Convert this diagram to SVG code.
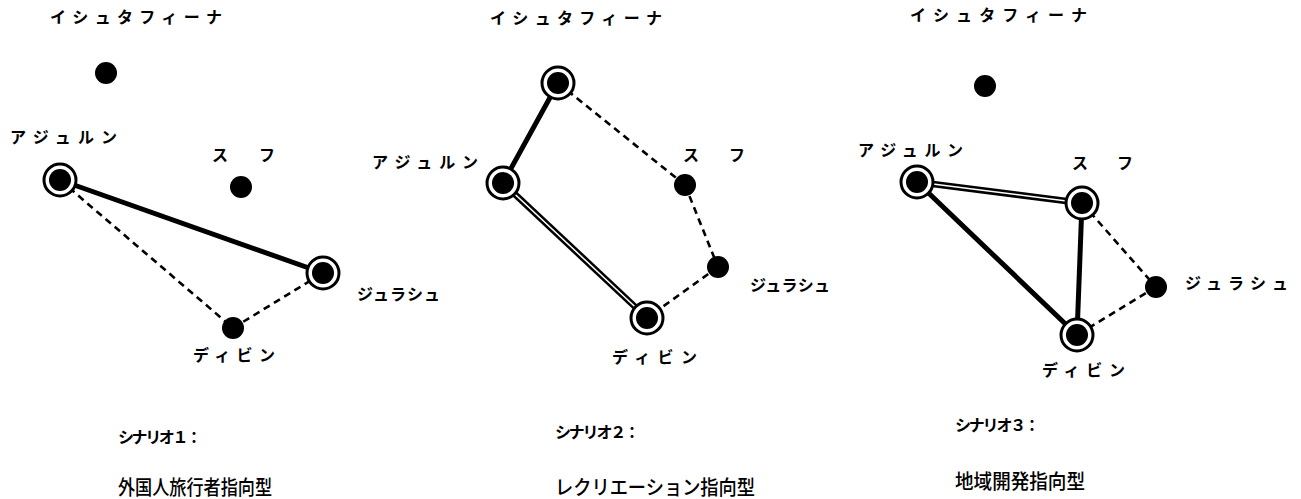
<svg xmlns="http://www.w3.org/2000/svg" width="1301" height="499" viewBox="0 0 1301 499">
<style>
text{font-family:"Noto Sans CJK JP","Noto Sans CJK SC",sans-serif;fill:#000;font-weight:bold}
.t{font-size:16px}
.b{font-size:16px}
.c{font-size:20px;font-weight:500}
.s{stroke:#000;stroke-width:5;stroke-linecap:round;fill:none}
.dl{stroke:#000;stroke-width:6.5;fill:none}
.dw{stroke:#fff;stroke-width:1.5;fill:none}
.d{stroke:#000;stroke-width:2.6;stroke-dasharray:7 5;fill:none}
.ring{fill:#fff;stroke:#000;stroke-width:3}
.core{fill:#000}
</style>
<rect width="1301" height="499" fill="#fff"/>
<g id="connectors">
<line class="s" x1="60" y1="180" x2="323" y2="273"/>
<line class="d" x1="60" y1="180" x2="233" y2="328"/>
<line class="d" x1="233" y1="328" x2="323" y2="273"/>
<line class="s" x1="558" y1="83" x2="503" y2="183"/>
<line class="dl" x1="503" y1="183" x2="647" y2="318"/>
<line class="dw" x1="503" y1="183" x2="647" y2="318"/>
<line class="d" x1="558" y1="83" x2="685" y2="185"/>
<line class="d" x1="685" y1="185" x2="718" y2="267"/>
<line class="d" x1="718" y1="267" x2="647" y2="318"/>
<line class="dl" x1="917" y1="182" x2="1082" y2="203"/>
<line class="dw" x1="917" y1="182" x2="1082" y2="203"/>
<line class="s" x1="917" y1="182" x2="1077" y2="335"/>
<line class="s" x1="1082" y1="203" x2="1077" y2="335"/>
<line class="d" x1="1082" y1="203" x2="1156" y2="287"/>
<line class="d" x1="1156" y1="287" x2="1077" y2="335"/>
</g>
<g id="p1-ishtafina"><circle class="core" cx="106" cy="73" r="11"/><text class="t" x="50" y="23" textLength="172" lengthAdjust="spacing">イシュタフィーナ</text></g>
<g id="p1-ajlun"><circle class="ring" cx="60" cy="180" r="16"/><circle class="core" cx="60" cy="180" r="11"/><text class="t" x="10" y="143" textLength="107" lengthAdjust="spacing">アジュルン</text></g>
<g id="p1-suf"><circle class="core" cx="241" cy="187" r="11"/><text class="t" x="212" y="161" textLength="63" lengthAdjust="spacing">ス　フ</text></g>
<g id="p1-jerash"><circle class="ring" cx="323" cy="273" r="16"/><circle class="core" cx="323" cy="273" r="11"/><text class="t" x="357" y="300" textLength="83" lengthAdjust="spacing">ジュラシュ</text></g>
<g id="p1-dibin"><circle class="core" cx="233" cy="328" r="11"/><text class="t" x="193" y="361" textLength="82" lengthAdjust="spacing">ディビン</text></g>
<g id="p1-caption"><text class="b" x="118" y="443" textLength="84" lengthAdjust="spacing">シナリオ１：</text><text class="c" x="118" y="495" textLength="154" lengthAdjust="spacingAndGlyphs">外国人旅行者指向型</text></g>
<g id="p2-ishtafina"><circle class="ring" cx="558" cy="83" r="16"/><circle class="core" cx="558" cy="83" r="11"/><text class="t" x="490" y="24" textLength="172" lengthAdjust="spacing">イシュタフィーナ</text></g>
<g id="p2-ajlun"><circle class="ring" cx="503" cy="183" r="16"/><circle class="core" cx="503" cy="183" r="11"/><text class="t" x="372" y="168" textLength="106" lengthAdjust="spacing">アジュルン</text></g>
<g id="p2-suf"><circle class="core" cx="685" cy="185" r="11"/><text class="t" x="683" y="161" textLength="62" lengthAdjust="spacing">ス　フ</text></g>
<g id="p2-jerash"><circle class="core" cx="718" cy="267" r="11"/><text class="t" x="750" y="291" textLength="80" lengthAdjust="spacing">ジュラシュ</text></g>
<g id="p2-dibin"><circle class="ring" cx="647" cy="318" r="16"/><circle class="core" cx="647" cy="318" r="11"/><text class="t" x="612" y="363" textLength="85" lengthAdjust="spacing">ディビン</text></g>
<g id="p2-caption"><text class="b" x="555" y="438" textLength="85" lengthAdjust="spacing">シナリオ２：</text><text class="c" x="555" y="495" textLength="200" lengthAdjust="spacingAndGlyphs">レクリエーション指向型</text></g>
<g id="p3-ishtafina"><circle class="core" cx="985" cy="86" r="11"/><text class="t" x="910" y="21" textLength="177" lengthAdjust="spacing">イシュタフィーナ</text></g>
<g id="p3-ajlun"><circle class="ring" cx="917" cy="182" r="16"/><circle class="core" cx="917" cy="182" r="11"/><text class="t" x="858" y="156" textLength="105" lengthAdjust="spacing">アジュルン</text></g>
<g id="p3-suf"><circle class="ring" cx="1082" cy="203" r="16"/><circle class="core" cx="1082" cy="203" r="11"/><text class="t" x="1072" y="169" textLength="61" lengthAdjust="spacing">ス　フ</text></g>
<g id="p3-jerash"><circle class="core" cx="1156" cy="287" r="11"/><text class="t" x="1185" y="289" textLength="103" lengthAdjust="spacing">ジュラシュ</text></g>
<g id="p3-dibin"><circle class="ring" cx="1077" cy="335" r="16"/><circle class="core" cx="1077" cy="335" r="11"/><text class="t" x="1042" y="376" textLength="83" lengthAdjust="spacing">ディビン</text></g>
<g id="p3-caption"><text class="b" x="955" y="431" textLength="85" lengthAdjust="spacing">シナリオ３：</text><text class="c" x="955" y="489" textLength="130" lengthAdjust="spacingAndGlyphs">地域開発指向型</text></g>
</svg>
